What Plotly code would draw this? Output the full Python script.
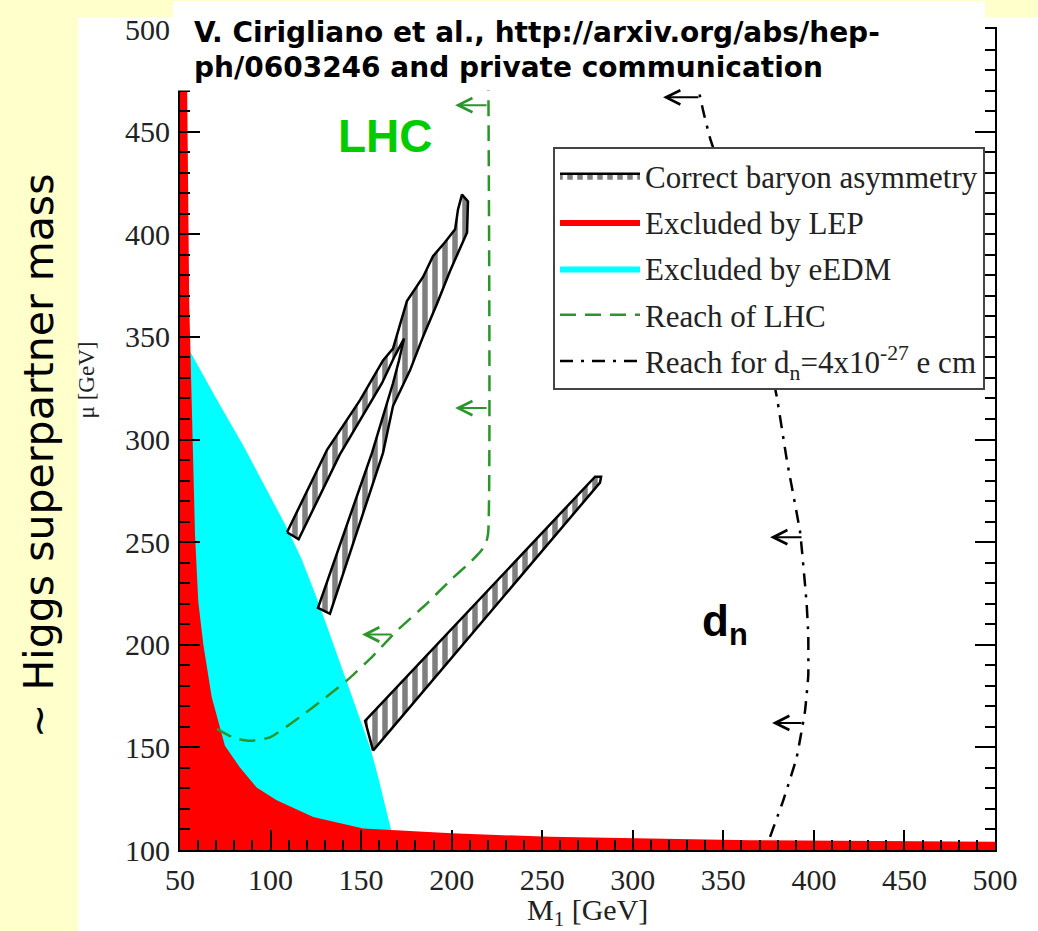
import plotly.graph_objects as go

# ---------------- data ----------------
# Excluded by LEP (red) boundary polygon: M1 [GeV], mu [GeV]
lep_m1 = [50, 50, 53.5, 54.0, 55.1, 57.0, 58.3, 60.1, 62.9, 67.5, 74.8, 83.1, 92.3,
          103.4, 123.6, 151.2, 200, 254.3, 364.8, 500, 500]
lep_mu = [100, 500, 500, 467, 366, 293.5, 253.4, 221, 200, 174.5, 150.8, 140.2, 130.5,
          124.2, 116.1, 110.5, 108.1, 106.4, 104.8, 104.0, 100]

# Excluded by eEDM (cyan) polygon
edm_m1 = [50, 55.5, 70, 85, 100, 109, 117, 125, 132, 138, 144, 150, 155, 159, 163, 166.5, 167, 50]
edm_mu = [343, 343, 320, 297, 272, 257, 242, 224, 207, 192, 177, 163, 150, 137, 122, 110, 100, 100]

# Correct baryon asymmetry bands (hatched)
bandA_m1 = [156.6, 281.9, 282.5, 279.2, 152.2]
bandA_mu = [148.4, 279.0, 281.9, 281.9, 162.9]

bandB_m1 = [109.1, 131.2, 149.4, 162.1, 167.6, 171.5, 175.3, 184.2, 189.7, 196.3, 201.9,
            203.5, 205.7, 209.0, 208.5, 199.1, 191.9, 184.2, 177.0, 167.6, 162.1, 132.8,
            126.2, 156.0, 167.6, 170.9, 173.7, 168.7, 161.5, 138.2, 115.5]
bandB_mu = [254.8, 295.0, 319.2, 338.5, 344.3, 356.4, 367.5, 379.2, 389.3, 396.1, 402.4,
            412.1, 419.3, 416.0, 400.9, 382.1, 366.1, 350.1, 333.7, 316.3, 293.5, 215.1,
            218.0, 293.5, 327.4, 338.5, 349.2, 340.9, 327.4, 292.6, 251.4]

# Reach of LHC (green dashed)
lhc_m1 = [70.4, 80, 88.7, 100, 116.5, 130, 144, 157, 170, 185, 200, 210, 215, 218.5, 220.1, 220.1]
lhc_mu = [159, 154.5, 153.2, 155, 165, 174, 184, 195, 207, 219, 232, 240, 244.5, 248.5, 254, 500]

# Reach for d_n = 4x10^-27 e cm (black dash-dot)
dn_m1 = [375.8, 383.1, 390.5, 395.1, 396.9, 396.9, 396.0, 392.4, 385.0, 379.5, 370, 359,
         349, 342.7, 339.0, 334, 329]
dn_mu = [106.4, 124.2, 145.1, 167.7, 185, 204.8, 220, 254.8, 290.3, 320.9, 360, 400,
         430, 446.7, 459.6, 480, 500]

# arrows: (mu, tail M1, head M1)
lhc_arrow_mu = [462.9, 315.3, 205.0]
lhc_arrow_tail = [220.1, 220.1, 167.6]
lhc_arrow_head = [201.9, 201.9, 150.5]
dn_arrow_mu = [466.7, 252.4, 161.9]
dn_arrow_tail = [337.1, 394.0, 394.0]
dn_arrow_head = [316.7, 375.8, 376.9]

x_range = [50, 500]
y_range = [100, 500]

# ---------------- layout helpers (pixel -> paper) ----------------
W, H = 1038, 931
ML, MR, MT, MB = 180, 43, 23, 81
PW, PH = W - ML - MR, H - MT - MB


def px(x):
    return (x - ML) / PW


def py(y):
    return (H - MB - y) / PH


GREEN = "#2a962a"
SERIF = "Liberation Serif"

fig = go.Figure()

fig.add_trace(go.Scatter(x=edm_m1, y=edm_mu, fill="toself", fillcolor="#00FFFF",
                         mode="lines", line=dict(width=0, color="#00FFFF"),
                         name="Excluded by eEDM", legendrank=3, legendgroup="edm",
                         hoverinfo="skip"))
fig.add_trace(go.Scatter(x=lep_m1, y=lep_mu, fill="toself", fillcolor="#FF0000",
                         mode="lines", line=dict(width=0, color="#FF0000"),
                         name="Excluded by LEP", legendrank=2, legendgroup="lep",
                         hoverinfo="skip"))
hatch = dict(shape="|", fgcolor="black", bgcolor="white", size=10, solidity=0.55)
fig.add_trace(go.Scatter(x=bandA_m1 + [bandA_m1[0]], y=bandA_mu + [bandA_mu[0]],
                         fill="toself", fillpattern=hatch, fillcolor="white",
                         mode="lines", line=dict(width=2.5, color="black"),
                         name="Correct baryon asymmetry", legendrank=1,
                         legendgroup="bau", hoverinfo="skip"))
fig.add_trace(go.Scatter(x=bandB_m1 + [bandB_m1[0]], y=bandB_mu + [bandB_mu[0]],
                         fill="toself", fillpattern=hatch, fillcolor="white",
                         mode="lines", line=dict(width=2.5, color="black"),
                         name="Correct baryon asymmetry", legendrank=1, showlegend=False,
                         legendgroup="bau", hoverinfo="skip"))
fig.add_trace(go.Scatter(x=lhc_m1, y=lhc_mu, mode="lines",
                         line=dict(color=GREEN, width=2.5, dash="16px,9px", shape="spline",
                                   smoothing=0.5),
                         name="Reach of LHC", legendrank=4, legendgroup="lhc",
                         hoverinfo="skip"))
fig.add_trace(go.Scatter(x=dn_m1, y=dn_mu, mode="lines",
                         line=dict(color="black", width=2.5, dash="13px,8px,3px,8px",
                                   shape="spline", smoothing=0.3),
                         name="Reach for d<sub>n</sub>=4x10<sup>-27</sup> e cm",
                         legendrank=5, legendgroup="dn", hoverinfo="skip"))

annotations = []
for mu, t, h in zip(lhc_arrow_mu, lhc_arrow_tail, lhc_arrow_head):
    annotations.append(dict(x=h, y=mu, ax=t, ay=mu, xref="x", yref="y", axref="x", ayref="y",
                            text="", showarrow=True, arrowhead=5, arrowsize=1.4,
                            arrowwidth=2, arrowcolor=GREEN))
for mu, t, h in zip(dn_arrow_mu, dn_arrow_tail, dn_arrow_head):
    annotations.append(dict(x=h, y=mu, ax=t, ay=mu, xref="x", yref="y", axref="x", ayref="y",
                            text="", showarrow=True, arrowhead=5, arrowsize=1.4,
                            arrowwidth=2, arrowcolor="black"))

CITE_FONT = dict(family="DejaVu Sans", size=28, color="black")
annotations += [
    dict(x=163.2, y=448, xref="x", yref="y", text="<b>LHC</b>", showarrow=False,
         xanchor="center", yanchor="middle",
         font=dict(family="Liberation Sans", size=46, color="#00CC00")),
    dict(x=337.1, y=210, xref="x", yref="y", text="<b>d<sub>n</sub></b>", showarrow=False,
         xanchor="left", yanchor="middle",
         font=dict(family="Liberation Sans", size=44, color="black")),
    dict(x=px(192), y=py(27), xref="paper", yref="paper", xanchor="left", yanchor="middle",
         showarrow=False, text="<b>V. Cirigliano et al., http://arxiv.org/abs/hep-</b>",
         font=CITE_FONT),
    dict(x=px(192), y=py(62), xref="paper", yref="paper", xanchor="left", yanchor="middle",
         showarrow=False, text="<b>ph/0603246 and private communication</b>",
         font=CITE_FONT),
    dict(x=px(39), y=py(453), xref="paper", yref="paper", textangle=-90, showarrow=False,
         xanchor="center", yanchor="middle",
         text="~ Higgs superpartner mass",
         font=dict(family="DejaVu Sans", size=41, color="black")),
    dict(x=px(86), y=py(377), xref="paper", yref="paper", textangle=-90, showarrow=False,
         xanchor="center", yanchor="middle",
         text="\u03bc [GeV]", font=dict(family=SERIF, size=23, color="#222")),
    dict(x=0.5, y=py(891), xref="paper", yref="paper", showarrow=False,
         xanchor="center", yanchor="top",
         text="M<sub>1</sub> [GeV]", font=dict(family=SERIF, size=30, color="#222")),
]

shapes = [
    dict(type="rect", xref="paper", yref="paper", x0=px(78), x1=px(W + 5), y0=py(H + 5), y1=py(11),
         fillcolor="white", line=dict(width=0), layer="below"),
    dict(type="rect", xref="paper", yref="paper", x0=px(173), x1=px(985), y0=py(85), y1=py(-5),
         fillcolor="white", line=dict(width=0), layer="above"),
]

axis_common = dict(showline=True, linecolor="black", linewidth=2, mirror="allticks",
                   ticks="inside", ticklen=20, tickwidth=2, tickcolor="black",
                   showgrid=False, zeroline=False, dtick=50,
                   tickfont=dict(family=SERIF, size=30, color="#222"),
                   minor=dict(ticks="inside", ticklen=10, tickwidth=1.5, tickcolor="black",
                              dtick=10, showgrid=False))

fig.update_layout(
    width=W, height=H,
    margin=dict(l=ML, r=MR, t=MT, b=MB, pad=0),
    paper_bgcolor="#FFFFCC", plot_bgcolor="white",
    xaxis=dict(range=x_range, tick0=50, ticklabelstandoff=2, **axis_common),
    yaxis=dict(range=y_range, tick0=100, ticklabelstandoff=2, **axis_common),
    showlegend=True,
    legend=dict(x=px(553), y=py(142), xanchor="left", yanchor="top",
                bgcolor="white", bordercolor="#444", borderwidth=2,
                font=dict(family=SERIF, size=31, color="#222"),
                itemwidth=80, tracegroupgap=3, traceorder="grouped"),
    annotations=annotations, shapes=shapes,
)

fig.write_html("out.html", config={"displayModeBar": False},
               post_script="document.body.style.margin='0';")
